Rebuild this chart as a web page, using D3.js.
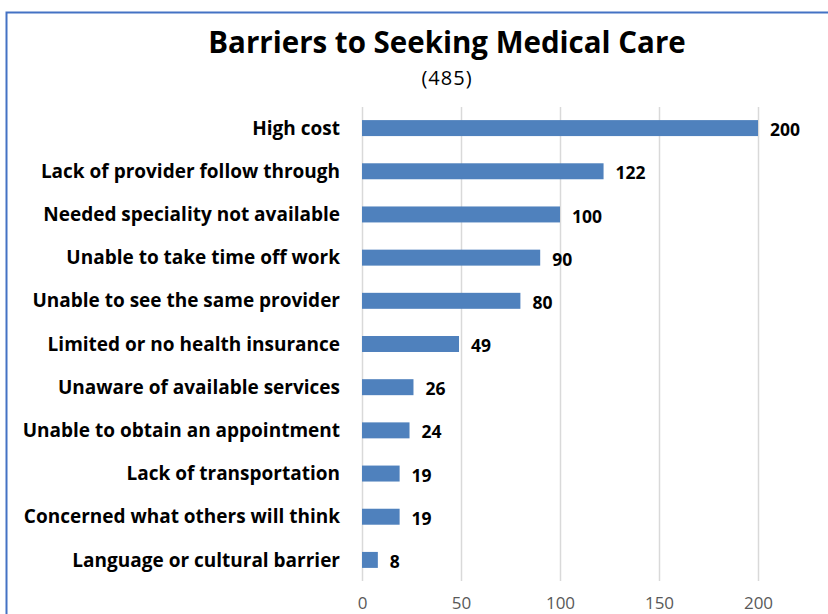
<!DOCTYPE html>
<html><head><meta charset="utf-8">
<script src="https://cdn.jsdelivr.net/npm/d3@7"></script>
<style>body{margin:0;background:#fff}svg{display:block}</style>
</head><body>
<script>
const categories = ["High cost","Lack of provider follow through","Needed speciality not available","Unable to take time off work","Unable to see the same provider","Limited or no health insurance","Unaware of available services","Unable to obtain an appointment","Lack of transportation","Concerned what others will think","Language or cultural barrier"];
const values = [200,122,100,90,80,49,26,24,19,19,8];
const xTicks = [0,50,100,150,200];
const title = "Barriers to Seeking Medical Care";
const subtitle = "(485)";

const W = 828, H = 614;
const svg = d3.select("body").append("svg").attr("width", W).attr("height", H);
const font = "'Open Sans', sans-serif";

svg.append("rect").attr("x",6.5).attr("y",12.5).attr("width",W+20).attr("height",H+20)
  .attr("fill","#fff").attr("stroke","#4472C4").attr("stroke-width",2);

const x = d3.scaleLinear().domain([0,200]).range([362,758]);
const y = d3.scaleBand().domain(categories).range([106.5,581.5]).paddingInner(0.63).paddingOuter(0.315);

svg.append("text").attr("x",447).attr("y",53).attr("text-anchor","middle")
  .attr("font-family",font).attr("font-weight","bold").attr("font-size",29.5).attr("fill","#000").text(title);
svg.append("text").attr("x",447).attr("y",85).attr("text-anchor","middle")
  .attr("font-family",font).attr("font-size",20).attr("letter-spacing",1).attr("fill","#000").text(subtitle);

const grid = svg.append("g").attr("transform","translate(0,581)")
  .call(d3.axisBottom(x).tickValues(xTicks).tickSize(-(581-107)).tickFormat(""));
grid.select(".domain").remove();
grid.selectAll("line").attr("stroke","#d9d9d9").attr("stroke-width",1.5);

const ax = svg.append("g").attr("transform","translate(0,597)")
  .call(d3.axisBottom(x).tickValues(xTicks).tickSize(0).tickPadding(0));
ax.select(".domain").remove();
ax.selectAll("text").attr("font-family",font).attr("font-size",17).attr("fill","#595959").attr("dy","0.71em");

svg.append("g").selectAll("rect").data(values).join("rect")
  .attr("x",x(0)).attr("y",(d,i)=>y(categories[i])).attr("width",d=>x(d)-x(0)).attr("height",y.bandwidth())
  .attr("fill","#4F81BD");

svg.append("g").selectAll("text").data(categories).join("text")
  .attr("x",340).attr("y",d=>y(d)+y.bandwidth()/2).attr("dy","0.35em").attr("text-anchor","end")
  .attr("font-family",font).attr("font-weight","bold").attr("font-size",19).attr("fill","#000").text(d=>d);

svg.append("g").selectAll("text").data(values).join("text")
  .attr("x",d=>x(d)+12).attr("y",(d,i)=>y(categories[i])+y.bandwidth()/2+2).attr("dy","0.35em")
  .attr("font-family",font).attr("font-weight","bold").attr("font-size",17.5).attr("fill","#000").text(d=>d);
</script>
</body></html>
